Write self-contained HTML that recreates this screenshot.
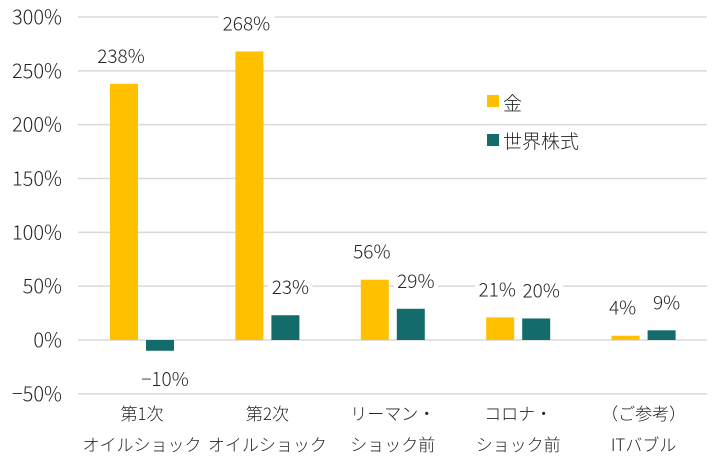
<!DOCTYPE html>
<html><head><meta charset="utf-8"><style>
body{margin:0;background:#fff;}
svg text{font-family:"Noto Sans CJK JP","Liberation Sans",sans-serif;fill:#262626;font-weight:300;}
</style></head><body>
<svg id="chart" width="716" height="468" xmlns="http://www.w3.org/2000/svg">
<g id="grid"></g><g id="bars"></g><g id="labels"></g>
<g>
<rect x="487" y="95" width="12" height="12" fill="#FFC000"/>
<text x="503" y="110" font-size="19">金</text>
<rect x="487" y="134" width="12" height="12" fill="#146B6B"/>
<text x="503" y="148" font-size="19">世界株式</text>
</g>
</svg>
<script>
const categories=[["第1次","オイルショック"],["第2次","オイルショック"],["リーマン・","ショック前"],["コロナ・","ショック前"],["（ご参考）","ITバブル"]];
const goldValues=[238,268,56,21,4];
const stockValues=[-10,23,29,20,9];
const yTicks=[-50,0,50,100,150,200,250,300];
const goldLabels=["238%","268%","56%","21%","4%"];
const stockLabels=["-10%","23%","29%","20%","9%"];
const NS="http://www.w3.org/2000/svg";
function y(v){return 340-v*(323/300);}
function x(i){return 78+i*125.4;}
function mk(tag,attrs,parent,txt){const e=document.createElementNS(NS,tag);for(const k in attrs)e.setAttribute(k,attrs[k]);if(txt!==undefined)e.textContent=txt;parent.appendChild(e);return e;}
const grid=document.getElementById('grid'),bars=document.getElementById('bars'),labels=document.getElementById('labels');
yTicks.forEach(t=>{
  const l=mk('line',{x1:78,x2:707,y1:y(t),y2:y(t),stroke:'#d9d9d9','stroke-width':1.5},grid);
  
  
  const tx=mk('text',{x:62,y:y(t)+7,'font-size':20,'text-anchor':'end'},grid,(t<0?'−'+(-t):t)+'%');
  
  
});
function label(cx,v,txt,name){
  const ty=v>=0?y(v)-21:y(v)+35;
  const w=txt.length*12+8;
  const bg=mk('rect',{x:cx-w/2,y:ty-19,width:w,height:24,fill:'#fff'},labels);
  
  
  const t=mk('text',{x:cx,y:ty,'font-size':19,'text-anchor':'middle'},labels,txt.replace('-','−'));
  
  
}
categories.forEach((c,i)=>{
  const gx=x(i)+32, sx=x(i)+68, w=28;
  const g=goldValues[i], s=stockValues[i];
  const gb=mk('rect',{x:gx,y:Math.min(y(g),y(0)),width:w,height:Math.abs(y(g)-y(0)),fill:'#FFC000'},bars);
  
  
  const sb=mk('rect',{x:sx,y:Math.min(y(s),y(0)),width:w,height:Math.abs(y(s)-y(0)),fill:'#146B6B'},bars);
  
  
  label(gx+w/2-3,g,goldLabels[i],'value-label-gold');
  label(sx+w/2+5,s,stockLabels[i],'value-label-stock');
  const cx=x(i)+64;
  c.forEach((ln,j)=>{
    const t=mk('text',{x:cx,y:420+j*31,'font-size':17,'text-anchor':'middle'},labels,ln);
    
    
  });
});
</script>
</body></html>
